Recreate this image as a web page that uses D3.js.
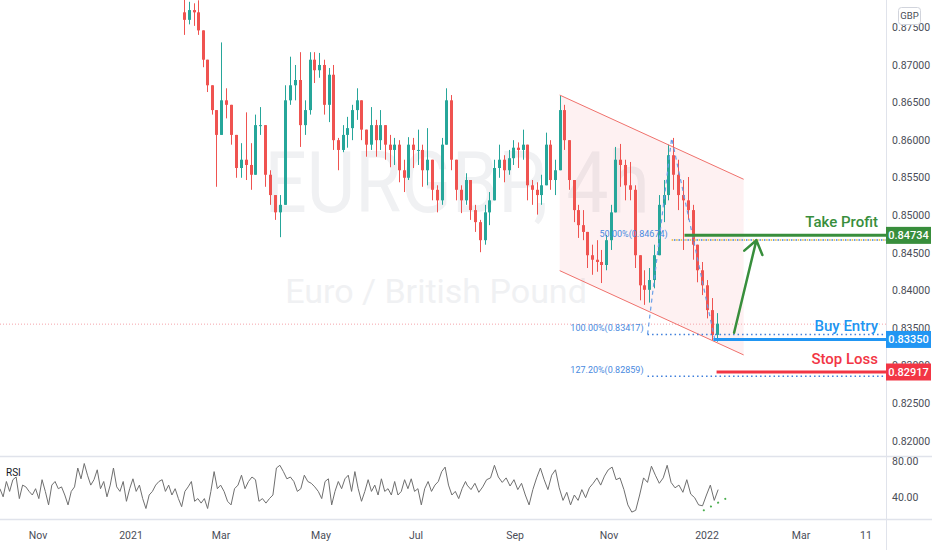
<!DOCTYPE html>
<html><head><meta charset="utf-8">
<script src="https://cdn.jsdelivr.net/npm/d3@7"></script>
<style>html,body{margin:0;padding:0;background:#fff;} svg{display:block;font-family:Roboto,"Liberation Sans",sans-serif;}</style>
</head><body><svg id="c" width="932" height="550"></svg>
<script>
// ---------------- DATA ----------------
const candleStart = "2021-02-05";
const candleStepDays = 3;
const firstOpen = 0.8770;
const highs = [
0.8793,0.8784,0.8782,0.8786,0.8737,0.8703,0.8673,0.8640,0.8730,0.8669,
0.8647,0.8600,0.8596,0.8637,0.8596,0.8634,0.8644,0.8620,0.8560,0.8527,
0.8527,0.8673,0.8711,0.8700,0.8717,0.8653,0.8717,0.8717,0.8716,0.8707,
0.8696,0.8700,0.8603,0.8620,0.8631,0.8647,0.8669,0.8653,0.8607,0.8644,
0.8627,0.8640,0.8620,0.8607,0.8603,0.8600,0.8574,0.8604,0.8603,0.8614,
0.8594,0.8616,0.8567,0.8540,0.8603,0.8669,0.8660,0.8574,0.8540,0.8556,
0.8547,0.8514,0.8494,0.8514,0.8531,0.8574,0.8594,0.8580,0.8587,0.8600,
0.8597,0.8614,0.8594,0.8547,0.8544,0.8554,0.8610,0.8600,0.8574,0.8659,
0.8647,0.8600,0.8540,0.8514,0.8507,0.8470,0.8461,0.8467,0.8454,0.8474,
0.8514,0.8591,0.8595,0.8574,0.8571,0.8540,0.8438,0.8427,0.8430,0.8461,
0.8527,0.8547,0.8594,0.8603,0.8574,0.8547,0.8551,0.8514,0.8461,0.8438,
0.8414,0.8390,0.8370];
const lows = [
0.8740,0.8754,0.8752,0.8740,0.8697,0.8664,0.8634,0.8538,0.8634,0.8629,
0.8594,0.8550,0.8550,0.8547,0.8534,0.8567,0.8607,0.8538,0.8514,0.8494,
0.8471,0.8514,0.8647,0.8653,0.8591,0.8607,0.8634,0.8676,0.8683,0.8634,
0.8624,0.8587,0.8560,0.8584,0.8590,0.8600,0.8627,0.8600,0.8578,0.8587,
0.8578,0.8587,0.8574,0.8564,0.8567,0.8544,0.8531,0.8547,0.8563,0.8567,
0.8538,0.8540,0.8520,0.8504,0.8514,0.8594,0.8560,0.8520,0.8503,0.8514,
0.8494,0.8478,0.8451,0.8461,0.8487,0.8520,0.8550,0.8544,0.8554,0.8567,
0.8563,0.8574,0.8520,0.8514,0.8501,0.8514,0.8540,0.8534,0.8527,0.8560,
0.8587,0.8534,0.8491,0.8470,0.8467,0.8430,0.8421,0.8425,0.8410,0.8427,
0.8454,0.8504,0.8538,0.8520,0.8520,0.8430,0.8387,0.8381,0.8384,0.8403,
0.8447,0.8491,0.8520,0.8534,0.8507,0.8454,0.8494,0.8441,0.8411,0.8394,
0.8363,0.8334,0.8332];
const closes = [
0.8760,0.8773,0.8770,0.8746,0.8707,0.8673,0.8640,0.8607,0.8653,0.8647,
0.8607,0.8563,0.8574,0.8567,0.8554,0.8620,0.8620,0.8554,0.8527,0.8504,
0.8514,0.8653,0.8673,0.8680,0.8620,0.8640,0.8707,0.8693,0.8700,0.8647,
0.8687,0.8600,0.8587,0.8607,0.8616,0.8640,0.8653,0.8614,0.8594,0.8620,
0.8600,0.8620,0.8594,0.8587,0.8594,0.8560,0.8550,0.8594,0.8587,0.8587,
0.8560,0.8574,0.8534,0.8520,0.8594,0.8653,0.8574,0.8534,0.8520,0.8547,
0.8507,0.8491,0.8467,0.8504,0.8520,0.8563,0.8574,0.8560,0.8576,0.8590,
0.8587,0.8594,0.8540,0.8534,0.8527,0.8540,0.8594,0.8547,0.8560,0.8640,
0.8600,0.8547,0.8507,0.8487,0.8478,0.8447,0.8441,0.8438,0.8434,0.8467,
0.8504,0.8574,0.8567,0.8540,0.8534,0.8447,0.8407,0.8401,0.8414,0.8447,
0.8514,0.8527,0.8580,0.8554,0.8527,0.8520,0.8507,0.8461,0.8427,0.8407,
0.8374,0.8341,0.8356];

// RSI(14), read in two sampled stretches
const rsiStretchDates = ["2020-10-07","2021-08-01","2021-08-02","2022-01-08"];
const rsiPart1 = [
50,41,58,47,60,63,39,54,52,47,43,50,39,60,47,32,54,58,50,52,
43,32,47,52,73,61,78,65,54,60,71,50,58,41,54,73,52,47,58,36,
50,61,47,54,39,28,43,47,54,58,60,47,54,43,50,39,30,47,52,58,
36,39,34,39,28,47,69,50,54,47,36,32,50,54,65,50,58,63,60,36,
39,34,39,43,73,76,69,61,63,58,47,50,65,58,56,52,47,39,58,61,
32,47,58,50,61,65,47,69,50,36,47,60,47,54,43,61,47,50,43,58,
43,47,60,50,61,47,50,32,50,58,47,54,58,69,74,54,43,47,39,50,58];
const rsiPart2 = [
54,49,56,46,52,60,62,76,63,57,62,53,60,49,56,43,32,49,62,73,
60,49,65,71,51,37,46,32,43,37,49,40,51,56,62,54,64,71,74,60,
62,49,32,24,26,43,62,57,75,65,56,62,76,57,51,54,46,60,44,40,
32,31,43,54,37,49];

const timeTickDates  = ["2020-11-01","2021-01-01","2021-03-01","2021-05-01","2021-07-01","2021-09-01","2021-11-01","2022-01-01","2022-03-01","2022-04-11"];
const timeTickLabels = ["Nov","2021","Mar","May","Jul","Sep","Nov","2022","Mar","11"];
const priceTicks = [0.820,0.825,0.830,0.835,0.840,0.845,0.850,0.855,0.860,0.865,0.870,0.875];
const rsiTicks = [40,80];

// drawings
const channelDates = ["2021-09-30","2022-01-24"];
const channelUpper = [0.8660,0.8548];
const channelLower = [0.84265,0.83144];
const fibPathDates  = ["2021-11-25","2021-12-10","2022-01-06"];
const fibPathPrices = [0.83417,0.86029,0.8334];
const fibLabels = ["50.00%(0.84674)","100.00%(0.83417)","127.20%(0.82859)"];
const fibPrices = [0.84674,0.83417,0.82859];
const fibStarts = ["2021-12-10","2021-11-25","2021-11-25"];
const levelNames  = ["Take Profit","Buy Entry","Stop Loss"];
const levelPrices = [0.84734,0.83350,0.82917];
const levelStarts = ["2021-12-18","2022-01-05","2022-01-07"];
const arrowDates  = ["2022-01-18","2022-02-01"];
const arrowPrices = [0.8344,0.8467];
const rsiTrendDates  = ["2021-12-30","2022-01-16"];
const rsiTrendValues = [26,42];
const symbolText = "EURGBP, 4h";
const descText = "Euro / British Pound";
const currencyText = "GBP";

// ---------------- CHART ----------------
const P = d3.timeParse("%Y-%m-%d");
const svg = d3.select("#c");
const W = 932, paneR = 886, priceB = 456, rsiT = 457, rsiB = 519;
const x = d3.scaleTime().domain(timeTickDates.map(P)).range([38,131,221,321,416,515,609,707,801,866]);
const y = d3.scaleLinear().domain([0.818,0.87864]).range([priceB,0]);
const yr = d3.scaleLinear().domain([40,80]).range([497.7,461.7]);
const levelColors = ["#388e3c","#2196f3","#f23645"];
const upC = "#26a69a", dnC = "#ef5350";

const defs = svg.append("defs");
defs.append("clipPath").attr("id","cp").append("rect").attr("x",0).attr("y",0).attr("width",paneR).attr("height",priceB);
defs.append("clipPath").attr("id","cr").append("rect").attr("x",0).attr("y",rsiT).attr("width",paneR).attr("height",rsiB-rsiT);

svg.append("rect").attr("width",W).attr("height",550).attr("fill","#fff");
const pane = svg.append("g").attr("clip-path","url(#cp)");

// watermark
pane.append("text").attr("x",457).attr("y",212).attr("text-anchor","middle")
  .attr("font-size",86).attr("textLength",385).attr("lengthAdjust","spacingAndGlyphs")
  .attr("fill","#f0f1f3").text(symbolText);
pane.append("text").attr("x",436).attr("y",303).attr("text-anchor","middle")
  .attr("font-size",34).attr("fill","#f0f1f3").text(descText);

// channel fill
const cd = channelDates.map(P);
pane.append("path").attr("d", d3.line()([
  [x(cd[0]),y(channelUpper[0])],[x(cd[1]),y(channelUpper[1])],
  [x(cd[1]),y(channelLower[1])],[x(cd[0]),y(channelLower[0])]]) + "Z")
  .attr("fill","rgba(242,54,69,0.07)");

// candles
const start = P(candleStart);
const candles = closes.map((c,i)=>{
  const o = i ? closes[i-1] : firstOpen;
  return {d: d3.timeDay.offset(start, i*candleStepDays), o, c,
          h: Math.max(highs[i],o,c), l: Math.min(lows[i],o,c)};
});
const last = candles[candles.length-1];
// last price line
pane.append("line").attr("x1",0).attr("x2",paneR).attr("y1",y(last.c)+0.5).attr("y2",y(last.c)+0.5)
  .attr("stroke","#f5a3aa").attr("stroke-dasharray","1,2");

const cg = pane.append("g");
cg.selectAll("line").data(candles).join("line")
  .attr("x1",d=>Math.round(x(d.d))+0.5).attr("x2",d=>Math.round(x(d.d))+0.5)
  .attr("y1",d=>y(d.h)).attr("y2",d=>y(d.l))
  .attr("stroke",d=>d.c>=d.o?upC:dnC).attr("stroke-width",1);
cg.selectAll("rect").data(candles).join("rect")
  .attr("x",d=>Math.round(x(d.d))-1).attr("width",3)
  .attr("y",d=>y(Math.max(d.o,d.c)))
  .attr("height",d=>Math.max(1,Math.abs(y(d.o)-y(d.c))))
  .attr("fill",d=>d.c>=d.o?upC:dnC);

// channel lines
pane.append("line").attr("x1",x(cd[0])).attr("y1",y(channelUpper[0])).attr("x2",x(cd[1])).attr("y2",y(channelUpper[1]))
  .attr("stroke","#f0716c").attr("stroke-width",1);
pane.append("line").attr("x1",x(cd[0])).attr("y1",y(channelLower[0])).attr("x2",x(cd[1])).attr("y2",y(channelLower[1]))
  .attr("stroke","#f0716c").attr("stroke-width",1);

// fib dashed path
pane.append("path").attr("d", d3.line()(fibPathDates.map((d,i)=>[x(P(d)),y(fibPathPrices[i])])))
  .attr("fill","none").attr("stroke","#6a9fe8").attr("stroke-width",1.2).attr("stroke-dasharray","4,4");

// level lines
levelNames.forEach((n,i)=>{
  const yy = y(levelPrices[i]);
  pane.append("line").attr("x1",x(P(levelStarts[i]))).attr("x2",paneR).attr("y1",yy).attr("y2",yy)
    .attr("stroke",levelColors[i]).attr("stroke-width",3);
});

// fib levels
fibLabels.forEach((t,i)=>{
  const yy = y(fibPrices[i]), xs = x(P(fibStarts[i]));
  if(i===0){
    pane.append("line").attr("x1",xs).attr("x2",paneR).attr("y1",yy).attr("y2",yy)
      .attr("stroke","#e8b92a").attr("stroke-width",1.5).attr("stroke-dasharray","1.5,3");
  }
  pane.append("line").attr("x1",xs).attr("x2",paneR).attr("y1",yy).attr("y2",yy)
    .attr("stroke","#3f7fdc").attr("stroke-width",1.5).attr("stroke-dasharray","1.5,3")
    .attr("stroke-dashoffset", i===0?2.2:0);
  pane.append("text").attr("x",xs-4).attr("y",yy-3).attr("text-anchor","end")
    .attr("font-size",9).attr("fill","#4a8ae0").text(t);
});

// arrow
const a0 = [x(P(arrowDates[0])),y(arrowPrices[0])], a1 = [x(P(arrowDates[1])),y(arrowPrices[1])];
const ang = Math.atan2(a0[1]-a1[1], a0[0]-a1[0]);
const wing = (s)=>[a1[0]+16*Math.cos(ang+s), a1[1]+16*Math.sin(ang+s)];
pane.append("path").attr("d", d3.line()([a0,a1]) + "M" + wing(0.62) + "L" + a1 + "L" + wing(-0.62))
  .attr("fill","none").attr("stroke","#388e3c").attr("stroke-width",2.5).attr("stroke-linecap","round").attr("stroke-linejoin","round");

// level texts
levelNames.forEach((n,i)=>{
  pane.append("text").attr("x",paneR-8).attr("y",y(levelPrices[i])-8).attr("text-anchor","end")
    .attr("font-size",15).attr("font-weight",500).attr("fill",levelColors[i]).text(n);
});

// RSI pane
const rg = svg.append("g").attr("clip-path","url(#cr)");
const rd = rsiStretchDates.map(P);
const ix1 = d3.scaleLinear().domain([0,rsiPart1.length-1]).range([+rd[0],+rd[1]]);
const ix2 = d3.scaleLinear().domain([0,rsiPart2.length-1]).range([+rd[2],+rd[3]]);
const rsiPts = rsiPart1.map((v,i)=>[new Date(ix1(i)),v]).concat(rsiPart2.map((v,i)=>[new Date(ix2(i)),v]));
rg.append("path").attr("d", d3.line().x(d=>x(d[0])).y(d=>yr(d[1]))(rsiPts))
  .attr("fill","none").attr("stroke","#6f6f6f").attr("stroke-width",1);
rg.append("line").attr("x1",x(P(rsiTrendDates[0]))).attr("y1",yr(rsiTrendValues[0]))
  .attr("x2",x(P(rsiTrendDates[1]))).attr("y2",yr(rsiTrendValues[1]))
  .attr("stroke","#4caf50").attr("stroke-width",2).attr("stroke-linecap","round").attr("stroke-dasharray","0.1,8");
svg.append("text").attr("x",6).attr("y",476).attr("font-size",10).attr("fill","#131722").text("RSI");

// separators
svg.append("line").attr("x1",0).attr("x2",W).attr("y1",456.5).attr("y2",456.5).attr("stroke","#e0e3eb").attr("stroke-width",1.5);
svg.append("line").attr("x1",0).attr("x2",W).attr("y1",519.5).attr("y2",519.5).attr("stroke","#e0e3eb").attr("stroke-width",1.5);
svg.append("line").attr("x1",paneR+0.5).attr("x2",paneR+0.5).attr("y1",0).attr("y2",550).attr("stroke","#e0e3eb").attr("stroke-width",1);

// price axis labels
svg.append("g").selectAll("text").data(priceTicks).join("text")
  .attr("x",892).attr("y",d=>y(d)).attr("dy","0.35em").attr("font-size",10.5).attr("fill","#4a4d57")
  .text(d=>d.toFixed(5));
svg.append("g").selectAll("text").data(rsiTicks).join("text")
  .attr("x",892).attr("y",d=>yr(d)).attr("dy","0.35em").attr("font-size",10.5).attr("fill","#4a4d57")
  .text(d=>d.toFixed(2));
// time axis labels
svg.append("g").selectAll("text").data(timeTickDates).join("text")
  .attr("x",d=>x(P(d))).attr("y",539).attr("text-anchor","middle").attr("font-size",10.5).attr("fill","#4a4d57")
  .text((d,i)=>timeTickLabels[i]);

// currency box
svg.append("rect").attr("x",898.5).attr("y",7.5).attr("width",22).attr("height",17).attr("rx",3)
  .attr("fill","#fff").attr("stroke","#d1d4dc");
svg.append("text").attr("x",909.5).attr("y",16).attr("dy","0.35em").attr("text-anchor","middle")
  .attr("font-size",9.5).attr("fill","#4a4d57").text(currencyText);

// level price boxes
levelPrices.forEach((p,i)=>{
  const yy = y(p);
  svg.append("rect").attr("x",paneR).attr("y",yy-8.5).attr("width",45).attr("height",17).attr("fill",levelColors[i]);
  svg.append("text").attr("x",paneR+22.5).attr("y",yy).attr("dy","0.36em").attr("text-anchor","middle")
    .attr("font-size",11).attr("font-weight",500).attr("fill","#fff").text(p.toFixed(5));
});
</script></body></html>
